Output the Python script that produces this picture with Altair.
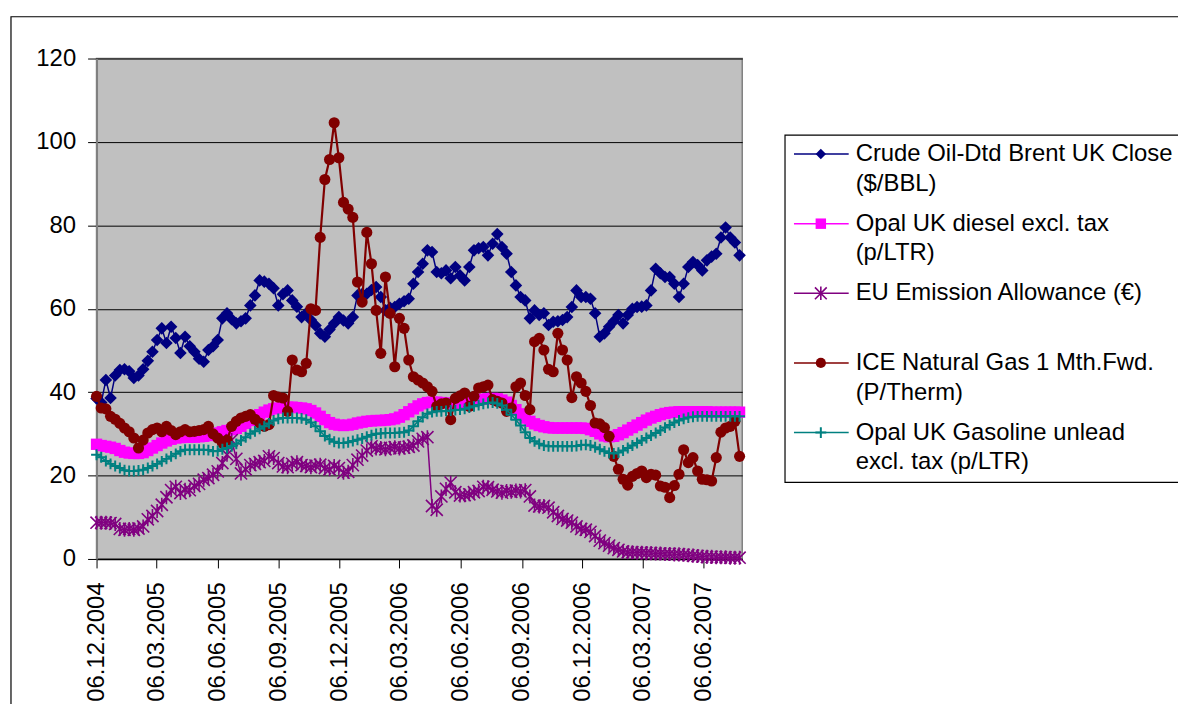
import altair as alt
import pandas as pd

# ---------------- data ----------------
START_DATE = "2004-12-06"          # first weekly observation
DOMAIN_DAYS = 970                  # length of the date axis
TICK_DATES = ["2004-12-06", "2005-03-06", "2005-06-06", "2005-09-06",
              "2005-12-06", "2006-03-06", "2006-06-06", "2006-09-06",
              "2006-12-06", "2007-03-06", "2007-06-06"]
Y_TICKS = [0, 20, 40, 60, 80, 100, 120]

SERIES = ["Crude Oil-Dtd Brent UK Close ($/BBL)",
          "Opal UK diesel excl. tax (p/LTR)",
          "EU Emission Allowance (€)",
          "ICE Natural Gas 1 Mth.Fwd. (P/Therm)",
          "Opal UK Gasoline unlead excl. tax (p/LTR)"]
LEGEND_LINE1 = ["Crude Oil-Dtd Brent UK Close", "Opal UK diesel excl. tax",
                "EU Emission Allowance (€)", "ICE Natural Gas 1 Mth.Fwd.",
                "Opal UK Gasoline unlead"]
LEGEND_LINE2 = ["($/BBL)", "(p/LTR)", "", "(P/Therm)", "excl. tax (p/LTR)"]
COLORS = ["#000080", "#FF00FF", "#800080", "#800000", "#008080"]

brent = [38.5, 37.5, 42.9, 38.6, 44, 45.3, 45.5, 45, 43.4, 44,
         45.5, 47.5, 49.7, 52.5, 55.3, 51.8, 55.7, 53, 49.4, 53.3,
         51, 49.7, 48, 47.3, 50.1, 51, 52.5, 57.7, 58.9, 57.5,
         56.5, 57, 57.7, 60.8, 63.2, 66.8, 66.5, 66, 64.9, 60.8,
         63.5, 64.4, 62, 60.5, 58, 58.9, 57.3, 56, 54.1, 53.3,
         55, 56.5, 58, 57.2, 56.5, 58, 63.2, 63.5, 63.6, 64.5,
         65.2, 62.8, 59.6, 60.2, 60.4, 61.2, 61.8, 62.4, 66, 68.8,
         70.8, 74, 73.6, 68.8, 68.5, 69.2, 67.3, 70, 68, 66.8,
         70, 74, 74.5, 74.8, 72.8, 75.6, 77.9, 74.8, 73.2, 68.8,
         65.6, 62.8, 62, 57.7, 59.6, 58.5, 58.9, 56.1, 56.9, 57,
         57.3, 58, 60.4, 64.4, 62.8, 62.8, 62.4, 58.9, 53.3, 54.1,
         55.7, 57, 58.5, 56.5, 58.5, 60, 60.4, 60.5, 60.8, 64.4,
         69.6, 68.5, 67.6, 67.6, 66, 62.8, 66, 70, 71.2, 70.5,
         69.2, 71.6, 72.5, 73.2, 77.1, 79.5, 77.1, 75.9, 72.8]

diesel = [27.5, 27.2, 27, 26.8,
          26.5, 26, 25.6, 25.4, 25.3, 25.3,
          25.5, 26, 26.6, 27.2, 27.8,
          28.3, 28.7, 29, 29.1, 29.2, 29.2,
          29.2, 29.3, 29.4, 29.6, 29.9, 30.2, 30.5,
          30.8, 31, 31.3, 31.8, 32.5, 33.2, 34,
          34.6, 35.2, 35.7, 36, 36.2, 36.3,
          36.4, 36.4, 36.3, 36.2, 36, 35.6, 35, 34.2,
          33.4, 32.7, 32.3, 32.1, 32, 32.1, 32.3,
          32.6, 32.8, 33, 33.1, 33.2, 33.2, 33.3,
          33.4, 33.6, 34, 34.6, 35.3, 36,
          36.7, 37.2, 37.5, 37.6, 37.6, 37.5, 37.4,
          37.3, 37.3, 37.4, 37.6, 37.8, 38, 38.2, 38.3,
          38.4, 38.5, 38.4, 38.1, 37.6, 36.8,
          35.8, 34.8, 33.8, 33, 32.4, 32, 31.7,
          31.5, 31.4, 31.4, 31.4, 31.4, 31.4, 31.4, 31.4, 31.3, 31,
          30.6, 30, 29.5, 29.3, 29.4, 29.8,
          30.3, 30.9, 31.5, 32.1, 32.7, 33.3, 33.8, 34.2,
          34.6, 34.9, 35.1, 35.2, 35.3, 35.3, 35.3, 35.3,
          35.3, 35.3, 35.3, 35.2, 35.2, 35.2, 35.2, 35.2, 35.2, 35.2]

eua = [8.7, 8.7, 8.7, 8.6, 8.4,
       7.2, 7, 7.2, 7, 7.3, 7.8,
       9.5, 10.3, 11.5, 13, 14.8, 16.5,
       17.3, 15.8, 16.6, 16.5, 17.5, 18,
       19, 19.4, 20.2, 21, 23, 25,
       28.5, 24, 20.5, 21.5, 22.5, 22.8,
       23.2, 23.5, 24.6, 24.2, 23, 22.2,
       22, 22.8, 23.2, 22.5, 22.3, 22, 22.4, 22.6,
       21.8, 21.5, 22.3, 21.8, 20.7, 20.9, 22.5, 23.8,
       24.8, 26, 27, 26.5, 26.6, 26.3, 26.6,
       26.8, 26.5, 26.7, 26.9, 27.2, 28.2, 28.8, 29.2,
       12.7, 11.8, 15, 16.8, 18.3, 16, 15.2, 15.3,
       15.5, 16, 16.3, 17.3, 17.2, 16.6, 16.2, 15.9,
       16.3, 16.1, 16.4, 16.2, 16.5, 15,
       12.8, 12.6, 12.7, 12.3, 11.2, 10.3, 9.6, 9.2,
       8.7, 7.8, 7.2, 7, 6.5, 5.5, 4.4,
       3.8, 3.2, 2.6, 2.2, 1.8, 1.6, 1.6,
       1.5, 1.5, 1.4, 1.4, 1.3, 1.3, 1.2,
       1.2, 1.1, 1.1, 1, 0.9, 0.8, 0.7,
       0.6, 0.5, 0.5, 0.4, 0.4, 0.4, 0.3, 0.3, 0.3]

gas = [39, 36.2, 36, 34.2, 33.5, 32.5, 31.4, 30.5, 29, 26.6,
       28.5, 30.2, 31, 31.4, 30.5, 31.8, 30.8, 29.8, 30.5, 31,
       30.5, 30.6, 30.8, 31, 31.8, 30, 29, 27.8, 28.5, 31.8,
       33, 33.8, 34.2, 34.6, 33.5, 32.6, 31.8, 32.2, 39.2, 38.8,
       38.6, 35.4, 47.7, 45.3, 44.9, 46.9, 60, 59.6, 77.1, 91,
       95.8, 104.6, 96.2, 85.5, 83.9, 81.9, 66.4, 61.6, 78.3, 70.8,
       59.6, 49.3, 67.6, 58.9, 46.1, 57.7, 55.3, 47.7, 43.7, 42.9,
       42.2, 41.3, 40.2, 36.6, 37.2, 37.4, 33.4, 38.5, 39.1, 39.8,
       36.6, 39, 41, 41.3, 41.7, 38.2, 37.8, 37.4, 35.4, 36.2,
       41.3, 42.2, 39.2, 35.8, 52.1, 52.9, 50.1, 45.5, 44.9, 54.1,
       50.1, 47.7, 38.7, 43.7, 42.2, 40.2, 36.8, 32.6, 32.4, 31.5,
       29.4, 24.6, 21.5, 19.1, 17.7, 19.8, 20.5, 21.1, 19.5, 20.3,
       20.1, 17.5, 17.2, 14.7, 17.6, 20.3, 26.2, 23.1, 24.3, 21.1,
       19.1, 19, 18.7, 24.3, 30.4, 31.4, 31.8, 33, 24.6]

gasoline = [25, 24.4, 23.5, 22.8, 22.3, 21.8,
            21.3, 21.1, 21.1, 21.2, 21.4,
            21.8, 22.3, 22.8, 23.4, 24, 24.6, 25.2,
            25.8, 26.2, 26.2, 26.2, 26.2, 26.2, 26.1, 25.8, 25.9, 26.3,
            26.6, 27, 27.6, 28.4, 29.2, 30, 30.6,
            31.2, 31.8, 32.5, 33.2, 33.6, 33.8, 33.8, 33.8, 33.8, 33.7, 33.4,
            32.7, 31.8, 30.6, 29.5, 28.7, 28.1, 27.8, 27.8, 28,
            28.3, 28.6, 28.9, 29.3, 29.7, 30, 30.1, 30.2,
            30.2, 30.2, 30.3, 30.4, 30.8, 31.8,
            33, 34, 34.8, 35.2, 35.4, 35.4, 35.5, 35.6,
            35.7, 35.8, 36, 36.3, 36.6, 36.9,
            37.2, 37.4, 37.5, 37.3, 36.8, 35.8,
            34.6, 33.4, 32, 30.4, 29, 28.2,
            27.6, 27.2, 27, 27, 27, 27, 27, 27, 27.1, 27.3, 27.4, 27.2,
            26.8, 26.3, 25.8, 25.4, 25.3, 25.5,
            26, 26.6, 27.2, 27.8, 28.4, 29, 29.6, 30.2,
            30.8, 31.5, 32.1, 32.7, 33.2, 33.6, 33.9, 34.1,
            34.2, 34.2, 34.2, 34.2, 34.2, 34.2, 34.2, 34.2, 34.2, 34.2]

VALUES = [brent, diesel, eua, gas, gasoline]
N = len(brent)
assert all(len(v) == N for v in VALUES), [len(v) for v in VALUES]

# ---------------- styling ----------------
FONT = "Liberation Sans, Arial, sans-serif"
FS = 24
ASTERISK = "M-1,-1L1,1M-1,1L1,-1M0,-1.15L0,1.15"
PLUS = "M-1,0L1,0M0,-1L0,1"
MARKS = [dict(shape="diamond", filled=True, size=160),
         dict(shape="square", filled=True, size=130),
         dict(shape=ASTERISK, filled=False, size=150, strokeWidth=1.6),
         dict(shape="circle", filled=True, size=125),
         dict(shape=PLUS, filled=False, size=120, strokeWidth=2)]
LEGEND_SIZES = [110, 110, 140, 105, 120]
LINE_W = [1.5, 1.5, 1.5, 2.2, 1.5]

W, H = 649, 503


def dt(ts):
    return alt.DateTime(year=int(ts.year), month=int(ts.month), date=int(ts.day))


dates = pd.date_range(START_DATE, periods=N, freq="7D")
start_ts = pd.Timestamp(START_DATE)
end_ts = start_ts + pd.Timedelta(days=DOMAIN_DAYS)

x_enc = alt.X(
    "date:T", title=None,
    scale=alt.Scale(domain=[dt(start_ts), dt(end_ts)], nice=False),
    axis=alt.Axis(values=[dt(pd.Timestamp(d)) for d in TICK_DATES],
                  format="%d.%m.%Y", labelAngle=-90, labelFlush=False,
                  labelOverlap=False, grid=False, tickSize=9, labelPadding=14,
                  domainColor="black", domainWidth=1.5, tickColor="black"))
y_enc = alt.Y(
    "value:Q", title=None,
    scale=alt.Scale(domain=[0, 120], nice=False),
    axis=alt.Axis(values=Y_TICKS, format="d", grid=True, gridColor="black",
                  gridWidth=1, tickSize=9, labelPadding=12,
                  domainColor="#808080", domainWidth=2, tickColor="black"))

layers = []

# outer chart-area border
layers.append(
    alt.Chart(pd.DataFrame({"k": [0]})).mark_rect(
        filled=False, stroke="black", strokeWidth=1.2).encode(
        x=alt.value(-86), x2=alt.value(1200), y=alt.value(-42), y2=alt.value(800)))

for k, name in enumerate(SERIES):
    df = pd.DataFrame({"date": dates, "value": VALUES[k], "series": name})
    base = alt.Chart(df)
    layers.append(base.mark_line(color=COLORS[k], strokeWidth=LINE_W[k]).encode(
        x=x_enc, y=y_enc))
    layers.append(base.mark_point(color=COLORS[k], opacity=1, **MARKS[k]).encode(
        x=x_enc, y=y_enc))

# legend box
layers.append(
    alt.Chart(pd.DataFrame({"k": [0]})).mark_rect(
        fill="white", stroke="black", strokeWidth=1.2).encode(
        x=alt.value(692), x2=alt.value(1200), y=alt.value(77), y2=alt.value(426)))

for k, name in enumerate(SERIES):
    ldf = pd.DataFrame({"series": [name], "line1": [LEGEND_LINE1[k]],
                        "line2": [LEGEND_LINE2[k]]})
    lb = alt.Chart(ldf)
    ly = 96 + 70 * k
    layers.append(lb.mark_rule(color=COLORS[k], strokeWidth=1.5).encode(
        x=alt.value(701), x2=alt.value(756), y=alt.value(ly)))
    mk = dict(MARKS[k])
    mk["size"] = LEGEND_SIZES[k]
    layers.append(lb.mark_point(color=COLORS[k], opacity=1, **mk).encode(
        x=alt.value(728), y=alt.value(ly)))
    layers.append(lb.mark_text(align="left", baseline="middle", font=FONT,
                               fontSize=FS, color="black").encode(
        x=alt.value(763), y=alt.value(ly), text="line1:N"))
    layers.append(lb.mark_text(align="left", baseline="middle", font=FONT,
                               fontSize=FS, color="black").encode(
        x=alt.value(763), y=alt.value(ly + 30), text="line2:N"))

chart = alt.layer(*layers).properties(
    width=W, height=H,
    autosize=alt.AutoSizeParams(type="none"),
    padding={"left": 89, "top": 49, "right": 438, "bottom": 144},
    background="white",
).configure_view(
    fill="#C0C0C0", stroke="#808080", strokeWidth=1.5
).configure_axis(
    labelFont=FONT, labelFontSize=FS, labelColor="black"
)

chart.save("out.html", embed_options={"renderer": "svg", "actions": False})
